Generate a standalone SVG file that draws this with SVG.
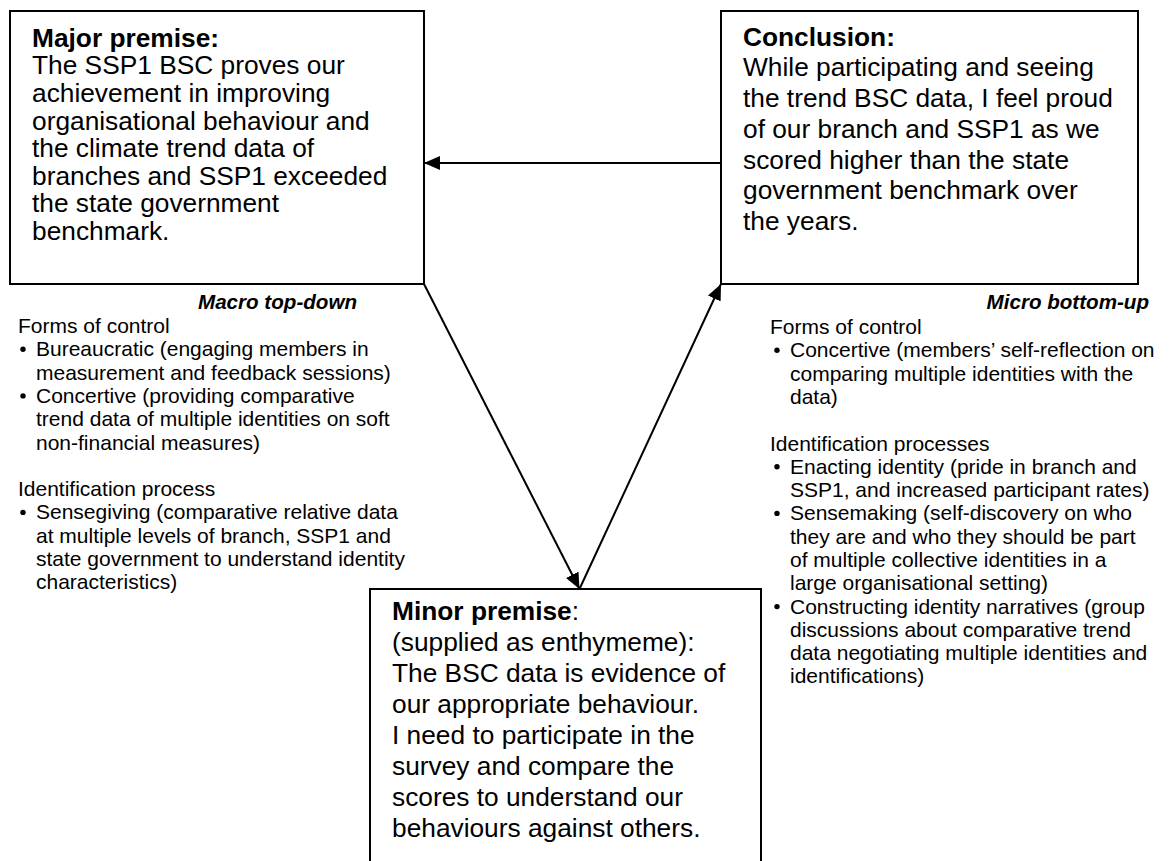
<svg xmlns="http://www.w3.org/2000/svg" width="1172" height="861" viewBox="0 0 1172 861">
  <style>
    .box { fill: #ffffff; stroke: #000000; stroke-width: 2; }
    .main { font-family: "Liberation Sans", Arial, sans-serif; font-size: 26.3px; fill: #000000; }
    .small { font-family: "Liberation Sans", Arial, sans-serif; font-size: 21px; fill: #000000; }
    .head { font-family: "Liberation Sans", Arial, sans-serif; font-size: 20.6px; font-weight: bold; font-style: italic; fill: #000000; }
    .b { font-weight: bold; }
    .link { fill: none; stroke: #000000; stroke-width: 2; }
  </style>
  <defs>
    <marker id="arrow" viewBox="0 0 16 14" refX="16" refY="7" markerWidth="16" markerHeight="14" markerUnits="userSpaceOnUse" orient="auto">
      <path d="M0,0 L16,7 L0,14 Z" fill="#000000"/>
    </marker>
  </defs>
  <rect width="1172" height="861" fill="#ffffff"/>

  <!-- Major premise -->
  <g id="major-premise">
    <rect class="box" x="10" y="11" width="414" height="273"/>
    <text class="main" x="32" y="46.7">
      <tspan class="b" x="32">Major premise:</tspan>
      <tspan x="32" dy="27.6">The SSP1 BSC proves our</tspan>
      <tspan x="32" dy="27.6">achievement in improving</tspan>
      <tspan x="32" dy="27.6">organisational behaviour and</tspan>
      <tspan x="32" dy="27.6">the climate trend data of</tspan>
      <tspan x="32" dy="27.6">branches and SSP1 exceeded</tspan>
      <tspan x="32" dy="27.6">the state government</tspan>
      <tspan x="32" dy="27.6">benchmark.</tspan>
    </text>
  </g>

  <!-- Conclusion -->
  <g id="conclusion">
    <rect class="box" x="721" y="11" width="417" height="273"/>
    <text class="main" x="743" y="45.7">
      <tspan class="b" x="743">Conclusion:</tspan>
      <tspan x="743" dy="30.7">While participating and seeing</tspan>
      <tspan x="743" dy="30.7">the trend BSC data, I feel proud</tspan>
      <tspan x="743" dy="30.7">of our branch and SSP1 as we</tspan>
      <tspan x="743" dy="30.7">scored higher than the state</tspan>
      <tspan x="743" dy="30.7">government benchmark over</tspan>
      <tspan x="743" dy="30.7">the years.</tspan>
    </text>
  </g>

  <!-- Minor premise (box runs past the lower edge) -->
  <g id="minor-premise">
    <rect class="box" x="370" y="589" width="391" height="300"/>
    <text class="main" x="392" y="620">
      <tspan x="392"><tspan class="b">Minor premise</tspan>:</tspan>
      <tspan x="392" dy="31">(supplied as enthymeme):</tspan>
      <tspan x="392" dy="31">The BSC data is evidence of</tspan>
      <tspan x="392" dy="31">our appropriate behaviour.</tspan>
      <tspan x="392" dy="31">I need to participate in the</tspan>
      <tspan x="392" dy="31">survey and compare the</tspan>
      <tspan x="392" dy="31">scores to understand our</tspan>
      <tspan x="392" dy="31">behaviours against others.</tspan>
    </text>
  </g>

  <!-- Macro top-down notes -->
  <g id="macro-notes">
    <text class="head" x="357" y="309" text-anchor="end">Macro top-down</text>
    <text class="small" x="18" y="333">
      <tspan x="18">Forms of control</tspan>
      <tspan x="36" dy="23.3">Bureaucratic (engaging members in</tspan>
      <tspan x="36" dy="23.3">measurement and feedback sessions)</tspan>
      <tspan x="36" dy="23.3">Concertive (providing comparative</tspan>
      <tspan x="36" dy="23.3">trend data of multiple identities on soft</tspan>
      <tspan x="36" dy="23.3">non-financial measures)</tspan>
      <tspan x="18" dy="46.6">Identification process</tspan>
      <tspan x="36" dy="23.3">Sensegiving (comparative relative data</tspan>
      <tspan x="36" dy="23.3">at multiple levels of branch, SSP1 and</tspan>
      <tspan x="36" dy="23.3">state government to understand identity</tspan>
      <tspan x="36" dy="23.3">characteristics)</tspan>
    </text>
    <g fill="#000000">
      <circle cx="23" cy="349.3" r="2.7"/>
      <circle cx="23" cy="395.9" r="2.7"/>
      <circle cx="23" cy="512.4" r="2.7"/>
    </g>
  </g>

  <!-- Micro bottom-up notes -->
  <g id="micro-notes">
    <text class="head" x="1149" y="309" text-anchor="end">Micro bottom-up</text>
    <text class="small" x="770" y="334">
      <tspan x="770">Forms of control</tspan>
      <tspan x="790" dy="23.3">Concertive (members’ self-reflection on</tspan>
      <tspan x="790" dy="23.3">comparing multiple identities with the</tspan>
      <tspan x="790" dy="23.3">data)</tspan>
      <tspan x="770" dy="46.6">Identification processes</tspan>
      <tspan x="790" dy="23.3">Enacting identity (pride in branch and</tspan>
      <tspan x="790" dy="23.3">SSP1, and increased participant rates)</tspan>
      <tspan x="790" dy="23.3">Sensemaking (self-discovery on who</tspan>
      <tspan x="790" dy="23.3">they are and who they should be part</tspan>
      <tspan x="790" dy="23.3">of multiple collective identities in a</tspan>
      <tspan x="790" dy="23.3">large organisational setting)</tspan>
      <tspan x="790" dy="23.3">Constructing identity narratives (group</tspan>
      <tspan x="790" dy="23.3">discussions about comparative trend</tspan>
      <tspan x="790" dy="23.3">data negotiating multiple identities and</tspan>
      <tspan x="790" dy="23.3">identifications)</tspan>
    </text>
    <g fill="#000000">
      <circle cx="777" cy="350.3" r="2.7"/>
      <circle cx="777" cy="466.8" r="2.7"/>
      <circle cx="777" cy="513.4" r="2.7"/>
      <circle cx="777" cy="606.6" r="2.7"/>
    </g>
  </g>

  <!-- Connectors -->
  <g id="connectors">
    <line class="link" x1="721" y1="163" x2="424" y2="163" marker-end="url(#arrow)"/>
    <line class="link" x1="424" y1="284" x2="579.5" y2="589" marker-end="url(#arrow)"/>
    <line class="link" x1="579.5" y1="589" x2="721" y2="284" marker-end="url(#arrow)"/>
  </g>
</svg>
